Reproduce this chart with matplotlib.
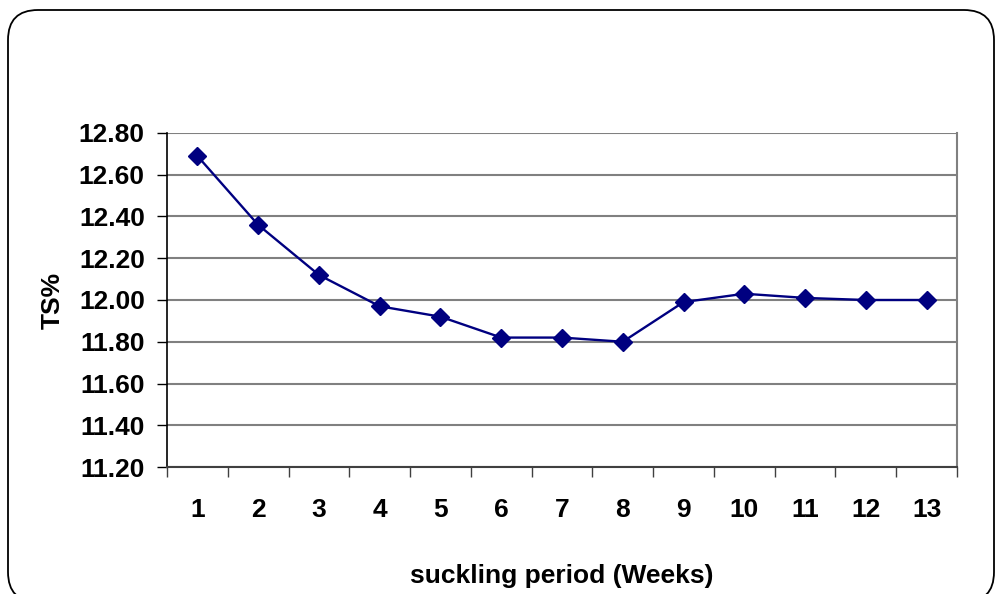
import matplotlib.pyplot as plt
from matplotlib.patches import FancyBboxPatch
from matplotlib.ticker import FixedLocator
from matplotlib.transforms import IdentityTransform

weeks = ['1', '2', '3', '4', '5', '6', '7', '8', '9', '10', '11', '12', '13']
ts_values = [12.69, 12.36, 12.12, 11.97, 11.92, 11.82, 11.82, 11.80, 11.99, 12.03, 12.01, 12.00, 12.00]
y_ticks = [11.20, 11.40, 11.60, 11.80, 12.00, 12.20, 12.40, 12.60, 12.80]

plt.rcParams['font.family'] = ['Liberation Sans', 'DejaVu Sans']
plt.rcParams['font.weight'] = 'bold'
fs = 19

fig = plt.figure(figsize=(10, 5.94), dpi=100)

# rounded chart-area border, in pixels (origin bottom-left)
border = FancyBboxPatch((8, -8), 986, 592,
                        boxstyle='round,pad=0,rounding_size=30',
                        transform=IdentityTransform(), fill=False,
                        edgecolor='black', linewidth=1.3)
fig.patches.append(border)

ax = fig.add_axes([0.167, 0.2138, 0.79, 0.5623])
x = list(range(1, len(weeks) + 1))
ax.plot(x, ts_values, color='#000080', linewidth=1.7, marker='D', markersize=9.5,
        markerfacecolor='#000080', markeredgecolor='#000080', zorder=3)

ax.set_xlim(0.5, len(weeks) + 0.5)
ax.set_ylim(11.20, 12.80)
ax.set_yticks(y_ticks)
ax.set_yticklabels([f'{v:.2f}' for v in y_ticks], fontsize=fs, fontweight='bold')
ax.set_xticks(x)
ax.set_xticklabels(weeks, fontsize=fs, fontweight='bold')
ax.xaxis.set_minor_locator(FixedLocator([i + 0.5 for i in range(0, len(weeks) + 1)]))
ax.tick_params(axis='x', which='major', length=0, pad=22)
ax.tick_params(axis='x', which='minor', length=7, width=1, color='#404040')
ax.tick_params(axis='y', length=7, width=1, pad=9)

ax.grid(axis='y', color='#808080', linewidth=1.5)
ax.set_axisbelow(True)
ax.spines['top'].set_visible(False)
ax.spines['right'].set_color('#808080')
ax.spines['right'].set_linewidth(1.5)
ax.spines['left'].set_color('black')
ax.spines['left'].set_linewidth(1.2)
ax.spines['bottom'].set_color('#404040')
ax.spines['bottom'].set_linewidth(1.5)

ax.set_ylabel('TS%', fontsize=fs, fontweight='bold', labelpad=10)
fig.text(0.562, 0.030, 'suckling period (Weeks)', fontsize=fs, fontweight='bold',
         ha='center', va='center')

fig.savefig('out.png', dpi=100)
